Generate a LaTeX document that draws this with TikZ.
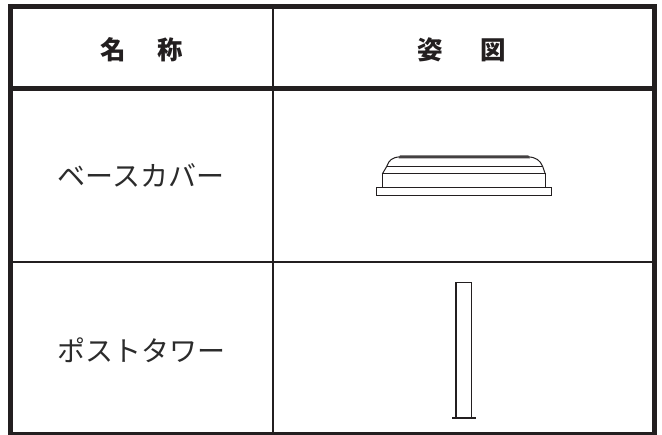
\documentclass[tikz,border=0pt]{standalone}
\usepackage{fontspec}
\newfontfamily\jp{Noto Sans CJK JP}
\definecolor{ink}{HTML}{231F20}
\definecolor{txt}{HTML}{2B2B2B}
\tikzset{
  frame/.style={draw=ink, line width=5pt},
  thin/.style={draw=ink, line width=2.5pt},
  part/.style={draw=ink, line width=1pt, line join=miter},
  head/.style={inner sep=0pt, text=ink, font=\jp\bfseries\fontsize{25.5}{28}\selectfont},
  body/.style={inner sep=0pt, text=txt, font=\jp\fontsize{28}{30}\selectfont}
}
\begin{document}
\begin{tikzpicture}[x=1pt,y=-1pt]
\useasboundingbox (0,0) rectangle (662,435);
\fill[white] (0,0) rectangle (662,435);
% grid
\draw[thin] (273,6) -- (273,434);
\draw[thin] (10,262) -- (655,262);
\draw[frame] (10,88.5) -- (655,88.5);
\draw[frame] (10.5,6.5) rectangle (654.5,434.5);
% texts
\node[head] (h1) at (141.5,50) {名\hspace{32pt}称};
\node[head] (h2) at (461.5,50) {姿\hspace{38pt}図};
\node[body] (n1) at (141,175) {ベースカバー};
\node[body] (n2) at (141.5,350) {ポストタワー};
% base cover
\draw[part] (376.7,187.7) rectangle (551.7,195.7);
\draw[part] (382.3,187.7) -- (382.3,174) -- (545.3,174) -- (545.3,187.7);
\draw[part] (382.3,174) -- (386.7,166.5)
  .. controls (389,160) and (392,157.5) .. (400,156.8);
\draw[part] (545.3,174) -- (542.7,166.5)
  .. controls (540,160) and (536,157.5) .. (528.3,156.8);
\draw[part] (386.7,166.5) -- (542.7,166.5);
\fill[ink!85] (400,155.3) -- (528.3,155.3) -- (530,158.3) -- (398.5,158.3) -- cycle;
% post tower
\draw[part, line width=1.2pt] (456,418.3) -- (456,282.3) -- (471.7,282.3) -- (471.7,418.3);
\draw[ink, line width=2pt] (452,418.5) -- (476,418.5);
\end{tikzpicture}
\end{document}
